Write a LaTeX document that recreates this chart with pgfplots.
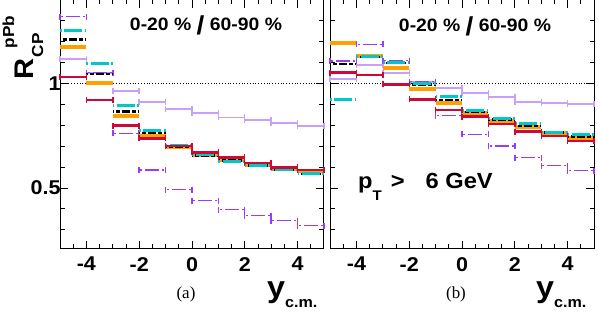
\documentclass[border=0pt]{standalone}
\usepackage{pgfplots}
\pgfplotsset{compat=1.18}
\usepackage{pgfplotstable}
\usepackage{fontspec}
\setmainfont{Liberation Sans}[FakeStretch=1.08]
\newfontfamily\seriffont{Liberation Serif}
\definecolor{cOr}{RGB}{255,160,0}
\definecolor{cCy}{RGB}{0,200,200}
\definecolor{cRd}{RGB}{205,10,55}
\definecolor{cLv}{RGB}{200,160,250}
\definecolor{cVi}{RGB}{150,60,250}

\pgfplotstableread{
x    oL    bL    cL    rL    lL    vL    oR    bR    cR    rR    lR    vR
-4.5 1.175 1.209 1.252 1.030 1.116 1.319 1.191 1.092 0.923 1.051 1.020 1.107
-3.5 1.000 1.045 1.094 0.920 1.050 1.050 1.132 1.125 1.130 1.040 1.088 1.187
-2.5 0.845 0.866 0.893 0.797 0.965 0.761 1.072 1.096 1.100 0.995 1.051 1.108
-1.5 0.750 0.762 0.774 0.737 0.911 0.585 0.973 0.995 1.000 0.923 1.008 1.008
-0.5 0.697 0.699 0.705 0.700 0.877 0.491 0.907 0.920 0.936 0.872 0.976 0.845
0.5  0.659 0.654 0.662 0.670 0.858 0.439 0.859 0.864 0.872 0.840 0.952 0.756
1.5  0.633 0.630 0.627 0.646 0.837 0.396 0.821 0.828 0.832 0.805 0.936 0.700
2.5  0.608 0.606 0.609 0.619 0.826 0.367 0.789 0.796 0.809 0.768 0.912 0.644
3.5  0.590 0.585 0.586 0.598 0.812 0.343 0.761 0.764 0.764 0.748 0.905 0.606
4.5  0.582 0.566 0.571 0.586 0.797 0.319 0.740 0.745 0.753 0.724 0.902 0.582
}\data

\pgfplotsset{
  panel/.style={scale only axis, width=264bp, height=249bp,
    xmin=-5, xmax=5, ymin=0.21, ymax=1.4, clip=false,
    xtick={-4,-2,0,2,4}, xticklabels={-4,-2,0,2,4},
    minor xtick={-4.5,-3.5,-3,-2.5,-1.5,-1,-0.5,0.5,1,1.5,2.5,3,3.5,4.5},
    ytick={0.5,1}, minor ytick={0.3,0.4,0.6,0.7,0.8,0.9,1.1,1.2,1.3},
    tick align=inside, major tick length=8bp, minor tick length=4.5bp,
    every tick/.style={black, line width=0.8bp},
    axis line style={line width=1bp},
    tick label style={font=\bfseries\fontsize{20}{20}\selectfont},
    xticklabel shift=5bp, yticklabel shift=-4bp},
  error bars/capped/.style={error mark=|, error mark options={solid, draw=#1, line width=1.4bp, mark size=3bp}},
  bin/.style n args={4}{draw=none, mark=none, forget plot,
    error bars/.cd, x dir=both, x fixed=0.5,
    error bar style={draw=#1, line width=#2, #3}, #4},
}

\begin{document}
\begin{tikzpicture}
% ---------- panel (a)
\begin{axis}[panel, at={(0,0)}, yticklabels={0.5,1}]
\addplot[black, dotted, line width=0.8bp, forget plot] coordinates {(-5,1) (5,1)};
\addplot[bin={cLv}{1.8bp}{solid}{capped=cLv}] table[x=x, y=lL] {\data};
\addplot[bin={cVi}{1.3bp}{dash pattern=on 7bp off 3bp on 2bp off 3bp}{capped=cVi}] table[x=x, y=vL] {\data};
\addplot[bin={cOr}{4bp}{solid}{error mark=none}] table[x=x, y=oL] {\data};
\addplot[bin={black}{2.5bp}{dash pattern=on 4bp off 2bp}{error mark=none}] table[x=x, y=bL] {\data};
\addplot[bin={cCy}{3bp}{dash pattern=on 9bp off 2.5bp on 2.5bp off 2.5bp}{error mark=none}] table[x=x, y=cL] {\data};
\addplot[bin={cRd}{2.7bp}{solid}{capped=cRd}] table[x=x, y=rL] {\data};
\end{axis}
% ---------- panel (b)
\begin{axis}[panel, at={(270bp,0)}, yticklabels={}]
\addplot[black, dotted, line width=0.8bp, forget plot] coordinates {(-5,1) (5,1)};
\addplot[bin={cLv}{1.8bp}{solid}{capped=cLv}] table[x=x, y=lR] {\data};
\addplot[bin={cVi}{1.3bp}{dash pattern=on 7bp off 3bp on 2bp off 3bp}{capped=cVi}] table[x=x, y=vR] {\data};
\addplot[bin={cOr}{4bp}{solid}{error mark=none}] table[x=x, y=oR] {\data};
\addplot[bin={black}{2.5bp}{dash pattern=on 4bp off 2bp}{error mark=none}] table[x=x, y=bR] {\data};
\addplot[bin={cCy}{3bp}{dash pattern=on 9bp off 2.5bp on 2.5bp off 2.5bp}{error mark=none}] table[x=x, y=cR] {\data};
\addplot[bin={cRd}{2.7bp}{solid}{capped=cRd}] table[x=x, y=rR] {\data};
\end{axis}
% ---------- texts
\node[font=\bfseries\fontsize{18}{18}\selectfont] at (146bp,223bp) {0-20 \% \raisebox{-4bp}{\fontsize{26}{26}\selectfont /} 60-90 \%};
\node[font=\bfseries\fontsize{18}{18}\selectfont] at (415bp,222bp) {0-20 \% \raisebox{-4bp}{\fontsize{26}{26}\selectfont /} 60-90 \%};
\node[anchor=base west, inner sep=0pt, font=\bfseries\fontsize{22}{22}\selectfont] at (298bp,60bp) {p\raisebox{-12bp}{\fontsize{14}{14}\selectfont T}\hspace{9bp}\textgreater\hspace{21bp}6 GeV};
\node[font=\seriffont\fontsize{17}{17}\selectfont] at (126bp,-46bp) {(a)};
\node[font=\seriffont\fontsize{17}{17}\selectfont] at (396bp,-46bp) {(b)};
\node[anchor=base west, inner sep=0pt, font=\bfseries] at (207bp,-49bp) {{\fontsize{30}{30}\selectfont y}\raisebox{-10bp}{\fontsize{15}{15}\selectfont c.m.}};
\node[anchor=base west, inner sep=0pt, font=\bfseries] at (476bp,-49bp) {{\fontsize{30}{30}\selectfont y}\raisebox{-10bp}{\fontsize{15}{15}\selectfont c.m.}};
\node[anchor=base west, inner sep=0pt, rotate=90, font=\bfseries] at (-27bp,169bp) {{\fontsize{27}{27}\selectfont R}\kern1bp\rlap{\kern9bp\raisebox{19bp}{\fontsize{16}{16}\selectfont pPb}}\raisebox{-10bp}{\fontsize{16}{16}\selectfont CP}};
\pgfresetboundingbox
\path[use as bounding box] (-60bp,-64bp) rectangle (538bp,248.6bp);
\end{tikzpicture}
\end{document}
